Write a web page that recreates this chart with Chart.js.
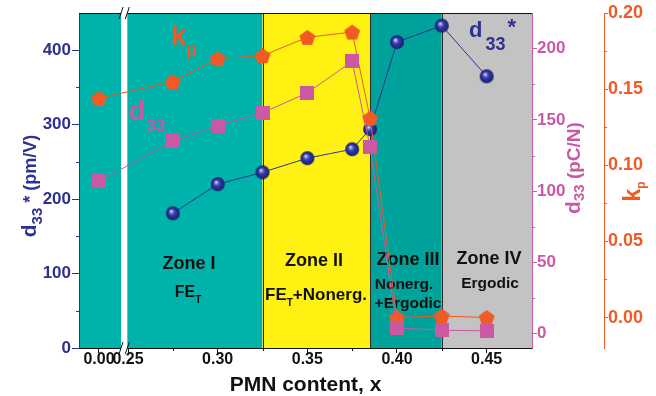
<!DOCTYPE html>
<html>
<head>
<meta charset="utf-8">
<title>PMN content, x</title>
<script src="https://cdn.jsdelivr.net/npm/chart.js@4.4.1/dist/chart.umd.min.js"></script>
<style>
  body { margin: 0; background: #fff; }
  #chart { display: block; }
</style>
</head>
<body>
<canvas id="chart" width="656" height="396"></canvas>
<script>
// PMN content and the three measured properties
const pmn = [0.00, 0.275, 0.30, 0.325, 0.35, 0.375, 0.385, 0.40, 0.425, 0.45];
const d33Star = [null, 181, 220, 236, 255, 267, 294, 411, 433, 365];   // pm/V
const d33 = [107, 135, 146, 155, 169, 191, 131, 4, 2.5, 2];            // pC/N
const kp = [0.144, 0.155, 0.170, 0.172, 0.184, 0.1875, 0.131, 0.000, 0.001, 0.000];

// tick marks of each axis
const xTicks = [0.00, 0.25, 0.30, 0.35, 0.40, 0.45];
const xMinor = [0.275, 0.325, 0.375, 0.425];
const leftTicks = [0, 100, 200, 300, 400];
const leftMinor = [50, 150, 250, 350];
const d33Ticks = [0, 50, 100, 150, 200];
const d33Minor = [25, 75, 125, 175];
const kpTicks = [0.00, 0.05, 0.10, 0.15, 0.20];
const kpMinor = [0.025, 0.075, 0.125, 0.175];

// zone boundaries along x
const zoneEdges = [0.325, 0.385, 0.425];
const zoneColors = ['#00b3aa', '#fff212', '#00a39b', '#c3c3c3'];

// the x axis is broken: x = 0 is drawn just before the break
const ZERO_AT = 0.2338;
const BREAK = [0.2461, 0.2496];
const xPos = v => (v < 0.1 ? ZERO_AT + v : v);

const BLUE = '#2e3192';
const PINK = '#cb58a2';
const ORANGE = '#f15a24';
const FONT = "'Liberation Sans', Arial, sans-serif";

Chart.defaults.font.family = FONT;
Chart.defaults.font.weight = 'bold';
Chart.defaults.font.size = 16;

// marker images
function makeSphere(d) {
  const c = document.createElement('canvas');
  c.width = c.height = d + 2;
  const g = c.getContext('2d');
  const r = d / 2, cx = c.width / 2, cy = c.height / 2;
  const grad = g.createRadialGradient(cx - r * 0.25, cy - r * 0.3, 0.3, cx, cy, r);
  grad.addColorStop(0, '#f4f6ff');
  grad.addColorStop(0.15, '#8a90dc');
  grad.addColorStop(0.45, '#3038a6');
  grad.addColorStop(1, '#1a1f6c');
  g.fillStyle = grad;
  g.beginPath();
  g.arc(cx, cy, r, 0, Math.PI * 2);
  g.fill();
  return c;
}

function makeSquare(s, color) {
  const c = document.createElement('canvas');
  c.width = c.height = s;
  const g = c.getContext('2d');
  g.fillStyle = color;
  g.fillRect(0, 0, s, s);
  return c;
}

function makePentagon(R, color) {
  const c = document.createElement('canvas');
  c.width = c.height = Math.ceil(R * 2) + 2;
  const g = c.getContext('2d');
  const cx = c.width / 2, cy = c.height / 2 + R * 0.095;
  g.fillStyle = color;
  g.beginPath();
  for (let i = 0; i < 5; i++) {
    const a = -Math.PI / 2 + i * Math.PI * 2 / 5;
    g.lineTo(cx + R * Math.cos(a), cy + R * Math.sin(a));
  }
  g.closePath();
  g.fill();
  return c;
}

// text made of pieces with their own size and vertical shift (subscripts)
function richText(ctx, parts, x, y, align) {
  let w = 0;
  parts.forEach(p => {
    ctx.font = `bold ${p[1]}px ${FONT}`;
    w += ctx.measureText(p[0]).width + (p[3] || 0);
  });
  let cx = align === 'center' ? x - w / 2 : x;
  parts.forEach(p => {
    ctx.font = `bold ${p[1]}px ${FONT}`;
    cx += p[3] || 0;
    ctx.fillText(p[0], cx, y + (p[2] || 0));
    cx += ctx.measureText(p[0]).width;
  });
}

function minorTicks(ctx, scale, values, len, color, side) {
  ctx.strokeStyle = color;
  ctx.lineWidth = 1;
  ctx.beginPath();
  values.forEach(v => {
    const p = Math.round(scale.getPixelForValue(v)) + 0.5;
    if (side === 'left') { ctx.moveTo(scale.right - len, p); ctx.lineTo(scale.right, p); }
    if (side === 'right') { ctx.moveTo(scale.left, p); ctx.lineTo(scale.left + len, p); }
    if (side === 'bottom') { ctx.moveTo(p, scale.top); ctx.lineTo(p, scale.top + len); }
  });
  ctx.stroke();
}

const decor = {
  id: 'decor',
  beforeDraw(chart) {
    const { ctx, chartArea: a, scales: { x } } = chart;
    const edges = [a.left, ...zoneEdges.map(v => x.getPixelForValue(v)), a.right];
    ctx.save();
    zoneColors.forEach((c, i) => {
      ctx.fillStyle = c;
      ctx.fillRect(edges[i], a.top, edges[i + 1] - edges[i], a.bottom - a.top);
    });
    ctx.strokeStyle = '#2a2a2a';
    ctx.lineWidth = 1;
    ctx.beginPath();
    for (let i = 1; i < edges.length - 1; i++) {
      const px = Math.round(edges[i]) + 0.5;
      ctx.moveTo(px, a.top);
      ctx.lineTo(px, a.bottom);
    }
    ctx.stroke();
    ctx.restore();
  },
  beforeDatasetsDraw(chart) {
    const { ctx, chartArea: a, scales } = chart;
    const x = scales.x;
    ctx.save();
    // top frame line
    ctx.strokeStyle = '#111';
    ctx.lineWidth = 1;
    ctx.beginPath();
    ctx.moveTo(a.left, a.top + 0.5);
    ctx.lineTo(a.right, a.top + 0.5);
    ctx.stroke();

    // axis break
    const b0 = x.getPixelForValue(BREAK[0]), b1 = x.getPixelForValue(BREAK[1]);
    ctx.fillStyle = '#fff';
    ctx.fillRect(b0, a.top - 1, b1 - b0, a.bottom - a.top + 2);
    ctx.strokeStyle = '#111';
    ctx.beginPath();
    [a.top, a.bottom].forEach(yy => {
      [b0, b1].forEach(xx => {
        ctx.moveTo(xx - 2, yy + 6);
        ctx.lineTo(xx + 2, yy - 6);
      });
    });
    ctx.stroke();

    minorTicks(ctx, scales.y, leftMinor, 3, BLUE, 'left');
    minorTicks(ctx, scales.yD33, d33Minor, 3, PINK, 'right');
    minorTicks(ctx, scales.yKp, kpMinor, 3, ORANGE, 'right');
    minorTicks(ctx, x, xMinor, 3, '#111', 'bottom');

    // zone names
    ctx.fillStyle = '#111';
    richText(ctx, [['Zone I', 18]], 189, 269, 'center');
    richText(ctx, [['FE', 16], ['T', 10, 6]], 188, 297, 'center');
    richText(ctx, [['Zone II', 18]], 314, 266, 'center');
    richText(ctx, [['FE', 17], ['T', 10, 6], ['+Nonerg.', 17]], 316, 300, 'center');
    richText(ctx, [['Zone III', 18]], 408, 265, 'center');
    richText(ctx, [['Nonerg.', 15.5]], 404, 289, 'center');
    richText(ctx, [['+Ergodic', 15.5]], 408, 308, 'center');
    richText(ctx, [['Zone IV', 18]], 489, 264, 'center');
    richText(ctx, [['Ergodic', 15.5]], 490, 288, 'center');
    ctx.restore();
  },
  afterDraw(chart) {
    const { ctx } = chart;
    ctx.save();
    // series names inside the plot
    ctx.fillStyle = ORANGE;
    richText(ctx, [['k', 27], ['p', 18, 11]], 171, 45, 'left');
    ctx.fillStyle = PINK;
    richText(ctx, [['d', 27], ['33', 17, 11, 1]], 129, 119.5, 'left');
    ctx.fillStyle = BLUE;
    richText(ctx, [['d', 22], ['33', 18, 13, 3], ['*', 22, -3, 2]], 469, 37, 'left');

    // axis titles
    const rotated = (cx, cy, parts, color) => {
      ctx.save();
      ctx.translate(cx, cy);
      ctx.rotate(-Math.PI / 2);
      ctx.fillStyle = color;
      richText(ctx, parts, 0, 0, 'center');
      ctx.restore();
    };
    rotated(36, 186, [['d', 21], ['33', 15, 6], [' * (pm/V)', 18]], BLUE);
    rotated(580, 168, [['d', 21], ['33', 15, 4], [' (pC/N)', 19]], PINK);
    rotated(639.5, 191.5, [['k', 23], ['p', 12, 5]], ORANGE);
    ctx.restore();
  }
};

const toPoints = ys => pmn.map((v, i) => ({ x: xPos(v), y: ys[i] }));

const axisGrid = (color, len) => ({
  drawOnChartArea: false,
  tickLength: len,
  tickColor: color,
  tickWidth: 1
});

new Chart(document.getElementById('chart'), {
  type: 'line',
  data: {
    datasets: [
      {
        label: 'd33',
        data: toPoints(d33),
        yAxisID: 'yD33',
        borderColor: PINK,
        borderWidth: 1,
        pointStyle: makeSquare(14, PINK),
        pointRadius: 7
      },
      {
        label: 'kp',
        data: toPoints(kp),
        yAxisID: 'yKp',
        borderColor: ORANGE,
        borderWidth: 1,
        pointStyle: makePentagon(8.3, ORANGE),
        pointRadius: 8
      },
      {
        label: 'd33*',
        data: toPoints(d33Star),
        yAxisID: 'y',
        borderColor: BLUE,
        borderWidth: 1,
        pointStyle: makeSphere(14),
        pointRadius: 7
      }
    ]
  },
  options: {
    responsive: false,
    animation: false,
    devicePixelRatio: 1,
    events: [],
    layout: { padding: { top: 13, left: 0, right: 0, bottom: 0 } },
    plugins: { legend: { display: false }, tooltip: { enabled: false } },
    scales: {
      x: {
        type: 'linear',
        position: 'bottom',
        min: 0.22265,
        max: 0.4753,
        bounds: 'data',
        afterBuildTicks: s => { s.ticks = xTicks.map(v => ({ value: xPos(v) })); },
        afterFit: s => { s.height = 48; },
        grid: axisGrid('#111', 5),
        border: { color: '#111', width: 1 },
        ticks: {
          autoSkip: false,
          maxRotation: 0,
          color: '#111',
          padding: -1,
          font: { size: 16, weight: 'bold', lineHeight: 1 },
          callback: (v, i) => xTicks[i].toFixed(2)
        },
        title: {
          display: true,
          text: 'PMN content, x',
          color: '#111',
          padding: 0,
          font: { size: 21, weight: 'bold', lineHeight: 1 }
        }
      },
      y: {
        position: 'left',
        min: 0,
        max: 450,
        bounds: 'data',
        afterBuildTicks: s => { s.ticks = leftTicks.map(v => ({ value: v })); },
        afterFit: s => { s.width = 79; },
        grid: axisGrid(BLUE, 7),
        border: { color: BLUE, width: 1 },
        ticks: { color: BLUE, padding: 1, font: { size: 17, weight: 'bold' }, callback: v => String(v) }
      },
      yD33: {
        position: 'right',
        weight: 0,
        min: -10,
        max: 225,
        bounds: 'data',
        afterBuildTicks: s => { s.ticks = d33Ticks.map(v => ({ value: v })); },
        afterFit: s => { s.width = 72; },
        grid: axisGrid(PINK, 5),
        border: { color: PINK, width: 1 },
        ticks: { color: PINK, padding: 0, font: { size: 17, weight: 'bold' }, callback: v => String(v) }
      },
      yKp: {
        position: 'right',
        weight: 1,
        min: -0.02,
        max: 0.20,
        bounds: 'data',
        afterBuildTicks: s => { s.ticks = kpTicks.map(v => ({ value: v })); },
        afterFit: s => { s.width = 52; },
        grid: axisGrid(ORANGE, 4),
        border: { color: ORANGE, width: 1 },
        ticks: { color: ORANGE, padding: 0, font: { size: 18, weight: 'bold' }, callback: v => v.toFixed(2) }
      }
    }
  },
  plugins: [decor]
});
</script>
</body>
</html>
